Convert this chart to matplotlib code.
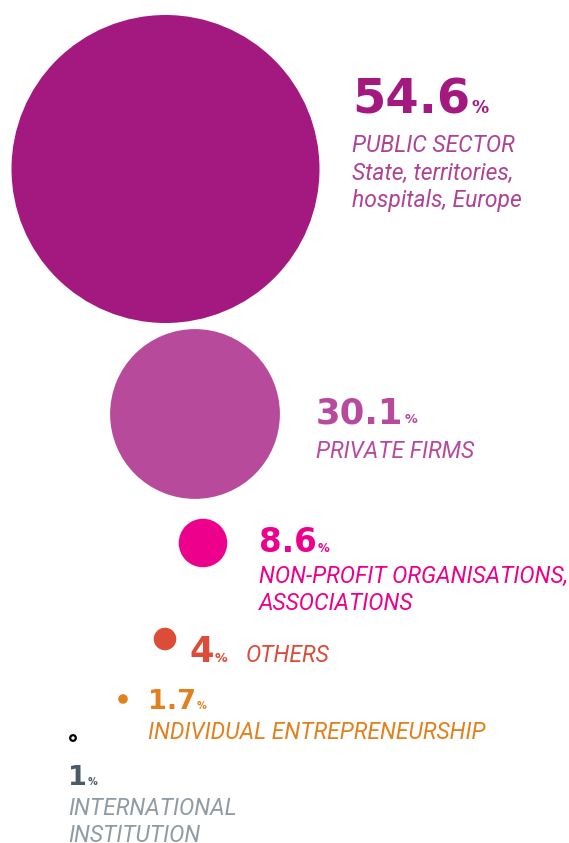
import matplotlib.pyplot as plt
from matplotlib.patches import Circle

# Dados
valores = [54.6, 30.1, 8.6, 4, 1.7, 1]
rotulos = [['PUBLIC SECTOR', 'State, territories,', 'hospitals, Europe'],
           ['PRIVATE FIRMS'],
           ['NON-PROFIT ORGANISATIONS,', 'ASSOCIATIONS'],
           ['OTHERS'],
           ['INDIVIDUAL ENTREPRENEURSHIP'],
           ['INTERNATIONAL', 'INSTITUTION']]
numeros = ['54.6', '30.1', '8.6', '4', '1.7', '1']

# Estilo
cores = ['#A3197F', '#B84A9C', '#EC008C', '#DD4B39', '#E3801E', 'black']
cores_num = ['#A3197F', '#B84A9C', '#EC008C', '#DD4B39', '#E3801E', '#4B5B66']
cores_txt = ['#AE4396', '#B84A9C', '#EC008C', '#DD4B39', '#E3801E', '#8F9BA4']
centros = [(165.5, 169), (195, 414), (203, 543), (165, 639), (123, 699), (73, 738)]
pos_num = [(352, 113), (316, 423), (259, 552), (189, 662), (148, 709), (68, 785)]
pos_txt = [(352, 152), (316, 458), (259, 583), (246, 662), (148, 739), (68, 815)]
tam_num = [34.5, 25.5, 23.5, 25.5, 19.5, 19.5]
entrelinha = 27.5
escala = 154 / 54.6  # raio proporcional ao valor

fig = plt.figure(figsize=(5.69, 8.43), dpi=100)
ax = fig.add_axes([0, 0, 1, 1])
ax.set_xlim(0, 569)
ax.set_ylim(843, 0)
ax.set_aspect('equal')
ax.axis('off')

for i, v in enumerate(valores):
    r = v * escala
    if i == len(valores) - 1:
        c = Circle(centros[i], r, facecolor='white', edgecolor=cores[i], linewidth=1.6)
    else:
        c = Circle(centros[i], r, facecolor=cores[i], edgecolor='none')
    ax.add_patch(c)

fig.canvas.draw()
renderer = fig.canvas.get_renderer()

for i in range(len(valores)):
    x, y = pos_num[i]
    t = ax.text(x, y, numeros[i], color=cores_num[i], fontsize=tam_num[i],
                fontweight='bold', family='DejaVu Sans', va='baseline', ha='left')
    bb = t.get_window_extent(renderer)
    xd = ax.transData.inverted().transform((bb.x1, bb.y0))[0]
    ax.text(xd + 1, y, '%', color=cores_num[i], fontsize=tam_num[i] * 0.36,
            fontweight='bold', family='DejaVu Sans', va='baseline', ha='left')
    xt, yt = pos_txt[i]
    for j, linha in enumerate(rotulos[i]):
        ax.text(xt, yt + j * entrelinha, linha, color=cores_txt[i], fontsize=16.5,
                style='italic', family='Roboto', va='baseline', ha='left')

fig.savefig('out.png', dpi=100)
